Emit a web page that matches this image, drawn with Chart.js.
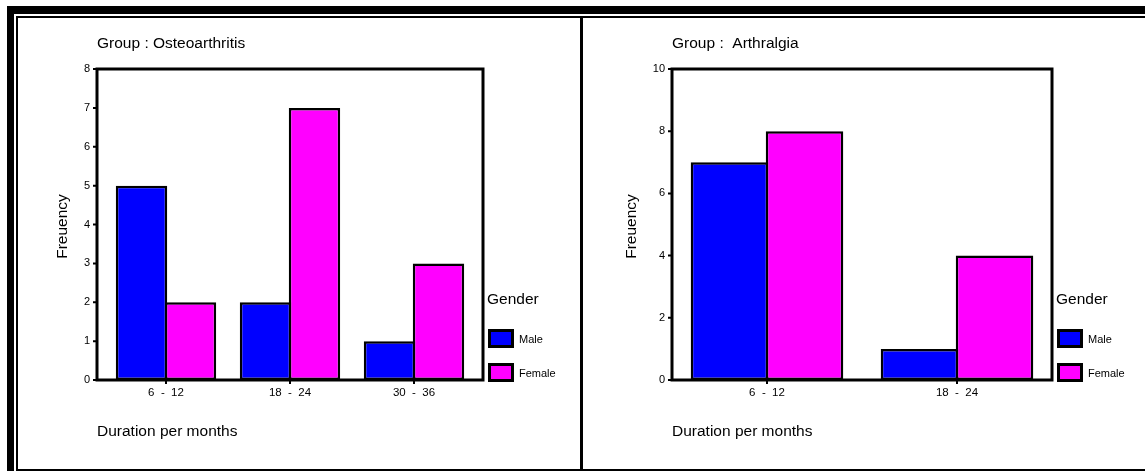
<!DOCTYPE html>
<html>
<head>
<meta charset="utf-8">
<script src="https://cdn.jsdelivr.net/npm/chart.js@4.4.1/dist/chart.umd.min.js"></script>
<style>
  html, body { margin: 0; padding: 0; background: #fff; }
  #page { position: relative; width: 1145px; height: 471px; overflow: hidden; background: #fff; }
  .rule { position: absolute; background: #000; }
  .panel { position: absolute; top: 18px; width: 562px; height: 451px; }
  .panel canvas { position: absolute; left: 0; top: 0; }
</style>
</head>
<body>
<div id="page">
  <!-- outer double frame and panel divider -->
  <div class="rule" style="left:7px;top:6px;width:1138px;height:8px"></div>
  <div class="rule" style="left:7px;top:6px;width:7px;height:465px"></div>
  <div class="rule" style="left:16px;top:16px;width:1129px;height:2px"></div>
  <div class="rule" style="left:16px;top:16px;width:2px;height:455px"></div>
  <div class="rule" style="left:16px;top:469px;width:1129px;height:2px"></div>
  <div class="rule" style="left:580px;top:16px;width:3px;height:455px"></div>

  <div class="panel" style="left:18px"><canvas id="chartOA" width="562" height="451"></canvas></div>
  <div class="panel" style="left:583px"><canvas id="chartAR" width="562" height="451"></canvas></div>
</div>

<script>
// Frequency of patients by duration of complaint, split by gender
const seriesNames = ['Male', 'Female'];
const seriesColors = ['#0000FF', '#FF00FF'];

const categoriesOA = ['6  -  12', '18  -  24', '30  -  36'];
const maleOA = [5, 2, 1];
const femaleOA = [2, 7, 3];
const yTicksOA = [0, 1, 2, 3, 4, 5, 6, 7, 8];

const categoriesAR = ['6  -  12', '18  -  24'];
const maleAR = [7, 1];
const femaleAR = [8, 4];
const yTicksAR = [0, 2, 4, 6, 8, 10];

const FONT = '"Liberation Sans", Arial, Helvetica, sans-serif';

// Draws the boxed plot frame, tick marks, titles and the gender legend
const panelDecor = {
  id: 'panelDecor',
  afterDatasetsDraw(chart, args, o) {
    const { ctx, chartArea: a, scales: { x, y } } = chart;
    const L = a.left - o.inset, R = a.right + o.inset, T = a.top, B = a.bottom;
    ctx.save();
    ctx.strokeStyle = '#000';
    ctx.lineWidth = 3;
    ctx.strokeRect(L, T, R - L, B - T);

    ctx.lineWidth = 2;
    ctx.beginPath();
    y.ticks.forEach(t => {
      const py = y.getPixelForValue(t.value);
      ctx.moveTo(L - 4, py); ctx.lineTo(L, py);
    });
    x.ticks.forEach((t, i) => {
      const px = x.getPixelForTick(i);
      ctx.moveTo(px, B); ctx.lineTo(px, B + 4);
    });
    ctx.stroke();

    ctx.fillStyle = '#000';
    ctx.textBaseline = 'middle';
    ctx.textAlign = 'left';
    ctx.font = '15.5px ' + FONT;
    ctx.fillText(o.title, L, T - 25);
    ctx.fillText('Duration per months', L, B + 52);

    // vertical axis title, placed left of the widest tick label
    ctx.font = '11px ' + FONT;
    const widest = Math.max(...y.ticks.map(t => ctx.measureText(String(t.value)).width));
    ctx.font = '15.5px ' + FONT;
    ctx.save();
    ctx.translate(L - 7 - widest - 21, (T + B) / 2 + 2);
    ctx.rotate(-Math.PI / 2);
    ctx.textAlign = 'center';
    ctx.fillText('Freuency', 0, 0);
    ctx.restore();

    // legend
    ctx.fillText('Gender', R + 4, B - 80);
    chart.data.datasets.forEach((ds, i) => {
      const cy = B - 41.5 + i * 34;
      ctx.fillStyle = ds.backgroundColor;
      ctx.fillRect(R + 6.5, cy - 8, 23, 16);
      ctx.lineWidth = 3;
      ctx.strokeRect(R + 6.5, cy - 8, 23, 16);
      ctx.fillStyle = '#000';
      ctx.font = '11px ' + FONT;
      ctx.fillText(ds.label, R + 36, cy + 1);
      ctx.font = '15.5px ' + FONT;
    });
    ctx.restore();
  }
};

function buildChart(id, cfg) {
  return new Chart(document.getElementById(id), {
    type: 'bar',
    data: {
      labels: cfg.labels,
      datasets: cfg.series.map((vals, i) => ({
        label: seriesNames[i],
        data: vals,
        backgroundColor: seriesColors[i],
        borderColor: '#000',
        borderWidth: 2.5,
        borderSkipped: false,
        categoryPercentage: 0.79,
        // slight overlap so neighbouring bars share one outline
        barPercentage: cfg.barPct
      }))
    },
    options: {
      responsive: false,
      animation: false,
      events: [],
      layout: { padding: { left: 0, top: 51, right: cfg.padRight, bottom: 0 } },
      plugins: {
        legend: { display: false },
        tooltip: { enabled: false },
        title: { display: false },
        panelDecor: { inset: cfg.inset, title: cfg.title }
      },
      scales: {
        x: {
          type: 'category',
          offset: true,
          grid: { display: false, drawTicks: false },
          border: { display: false },
          ticks: { color: '#000', padding: 6, font: { family: FONT, size: 11.5 }, maxRotation: 0, autoSkip: false },
          afterFit(s) { s.height = 89; }
        },
        y: {
          min: 0,
          max: cfg.yTicks[cfg.yTicks.length - 1],
          grid: { display: false, drawTicks: false },
          border: { display: false },
          afterBuildTicks(s) { s.ticks = cfg.yTicks.map(v => ({ value: v })); },
          ticks: { color: '#000', padding: cfg.inset + 7, font: { family: FONT, size: 11 } },
          afterFit(s) { s.width = cfg.areaLeft; }
        }
      }
    },
    plugins: [panelDecor]
  });
}

buildChart('chartOA', {
  title: 'Group : Osteoarthritis',
  labels: categoriesOA,
  series: [maleOA, femaleOA],
  yTicks: yTicksOA,
  inset: 7,
  areaLeft: 86,
  padRight: 104,
  barPct: 1.05
});

buildChart('chartAR', {
  title: 'Group :  Arthralgia',
  labels: categoriesAR,
  series: [maleAR, femaleAR],
  yTicks: yTicksAR,
  inset: 0,
  areaLeft: 89,
  padRight: 93,
  barPct: 1.033
});
</script>
</body>
</html>
